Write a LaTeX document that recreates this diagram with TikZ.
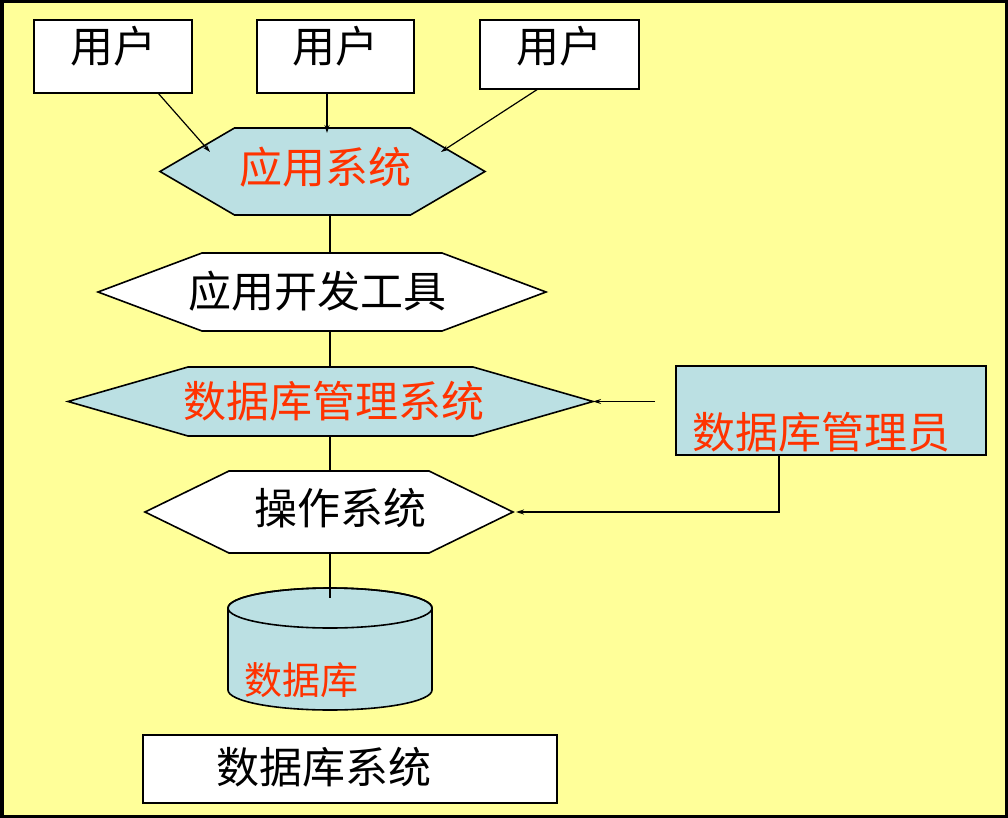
\documentclass[tikz,border=0pt]{standalone}
\usepackage{fontspec}
\setmainfont{Noto Sans CJK SC}
\usetikzlibrary{arrows.meta,calc,backgrounds}

\definecolor{slidebg}{HTML}{FFFF99}
\definecolor{paleblue}{HTML}{BBE0E3}
\definecolor{slidered}{HTML}{FF3300}

% hexagon drawn behind a node: name, point depth, fill
\newcommand{\hexoutline}[3]{%
  \begin{scope}[on background layer]
    \draw[box, fill=#3] (#1.west) -- ($(#1.north west)+(#2,0)$) -- ($(#1.north east)+(-#2,0)$)
      -- (#1.east) -- ($(#1.south east)+(-#2,0)$) -- ($(#1.south west)+(#2,0)$) -- cycle;
  \end{scope}}

\begin{document}
\begin{tikzpicture}[x=1pt, y=-1pt,
        box/.style={draw, line width=1.6pt, inner sep=0pt, outer sep=0pt},
        userbox/.style={box, fill=white},
        hexnode/.style={inner sep=0pt, outer sep=0pt},
        txt/.style={font=\fontsize{43}{48}\selectfont, inner sep=0pt},
        redtxt/.style={txt, text=slidered},
        link/.style={line width=1.2pt},
        arrow/.style={link, -{Stealth[length=8pt,width=5pt]}},
    ]
    \useasboundingbox (0,0) rectangle (1008,818);
    \begin{scope}[on background layer]
        \fill[slidebg, draw=black, line width=3.5pt] (1.75,1.75) rectangle (1006.25,816.25);
    \end{scope}
	% users
	\node[userbox, minimum width=158, minimum height=73, label={[txt, yshift=10pt]center:用户}] (u1) at (113,56.5) {};
	\node[userbox, minimum width=157, minimum height=73, label={[txt, yshift=10pt]center:用户}] (u2) at (335.5,56.5) {};
	\node[userbox, minimum width=159, minimum height=69, label={[txt, yshift=8.5pt]center:用户}] (u3) at (559.5,54.5) {};
	% layers
	\node[hexnode, minimum width=325, minimum height=87, label={[redtxt, xshift=2.5pt, yshift=4.5pt]center:应用系统}] (app) at (322.5,171.5) {};
	\node[hexnode, minimum width=448, minimum height=78, label={[txt, xshift=-5pt, yshift=1pt]center:应用开发工具}] (tool) at (322,292) {};
	\node[hexnode, minimum width=525, minimum height=69, label={[redtxt, xshift=3.5pt]center:数据库管理系统}] (dbms) at (330.5,401.5) {};
	\node[hexnode, minimum width=368, minimum height=82, label={[txt, xshift=11pt, yshift=4pt]center:操作系统}] (os) at (329,512) {};
	\hexoutline{app}{74.5}{paleblue}
	\hexoutline{tool}{104}{white}
	\hexoutline{dbms}{120}{paleblue}
	\hexoutline{os}{84}{white}
	% database
	\node[hexnode, minimum width=204, minimum height=122, label={[redtxt, font=\fontsize{38}{44}\selectfont, xshift=-28.5pt, yshift=-31pt]center:数据库}] (db) at (330,649) {};
	\begin{scope}[on background layer]
	    \draw[box, fill=paleblue] ($(db.north west)+(0,20)$) -- ($(db.south west)+(0,-20)$)
	        arc[start angle=180, end angle=360, x radius=102pt, y radius=20pt]
	        -- ($(db.north east)+(0,20)$)
	        arc[start angle=0, end angle=180, x radius=102pt, y radius=20pt] -- cycle;
	    \draw[box] ($(db.north)+(0,20)$) ellipse [x radius=102pt, y radius=20pt];
	\end{scope}
	% administrator and caption
	\node[box, fill=paleblue, minimum width=310, minimum height=89, label={[redtxt, xshift=-9.5pt, yshift=-21.5pt]center:数据库管理员}] (dba) at (831,410.5) {};
	\node[userbox, minimum width=414, minimum height=68, label={[txt, xshift=-26.5pt, yshift=2pt]center:数据库系统}] (dbsys) at (350,769) {};
	% connectors
	\draw[arrow] ($(u1.south)+(45,0)$) -- ($(app.north west)+(50,24)$);
	\draw[arrow] ($(u2.south)+(-8.5,0)$) -- ($(app.north)+(4.5,5)$);
	\draw[arrow] ($(u3.south)+(-21.5,0)$) -- ($(app.north east)+(-44,24)$);
	\draw[link] (app.south -| db.north) -- (tool.north -| db.north);
	\draw[link] (tool.south -| db.north) -- (dbms.north -| db.north);
	\draw[link] (dbms.south -| db.north) -- (os.north -| db.north);
	\draw[link] (os.south -| db.north) -- ($(db.north)+(0,10)$);
	\draw[arrow] ($(dbms.east)+(62,0)$) -- (dbms.east);
	\draw[arrow] ($(dba.south)+(-52,0)$) |- ($(os.east)+(3,0)$);
\end{tikzpicture}
\end{document}
